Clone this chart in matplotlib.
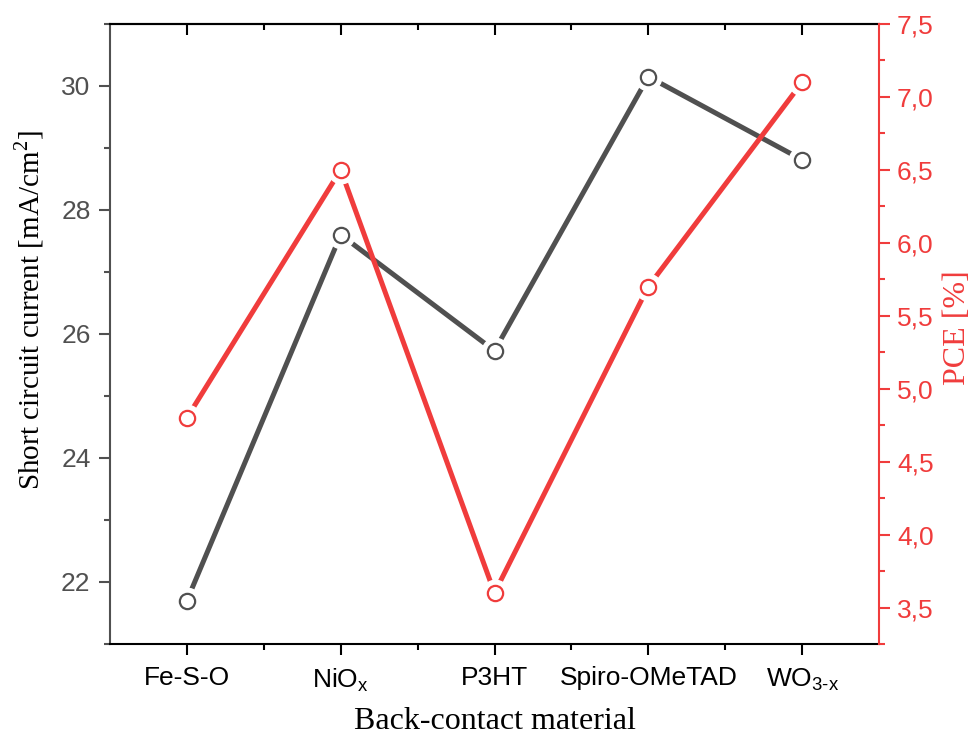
import matplotlib
matplotlib.use('Agg')
import matplotlib.pyplot as plt
from matplotlib.ticker import MultipleLocator, FuncFormatter, FixedLocator

plt.rcParams['font.family'] = ['Liberation Sans', 'DejaVu Sans']
plt.rcParams['mathtext.fontset'] = 'custom'
plt.rcParams['mathtext.rm'] = 'Liberation Sans'

materials = ['Fe-S-O', 'NiO$_\\mathregular{x}$', 'P3HT', 'Spiro-OMeTAD',
             'WO$_{\\mathregular{3}\\text{-}\\mathregular{x}}$']
jsc = [21.7, 27.6, 25.73, 30.15, 28.81]
pce = [4.8, 6.5, 3.6, 5.7, 7.1]

dark = '#505050'
red = '#f03c3c'
x = list(range(1, len(materials) + 1))

fig = plt.figure(figsize=(9.77, 7.38), dpi=100)
ax = fig.add_axes([0.1126, 0.1274, 0.7871, 0.8401])
ax2 = ax.twinx()

def draw(a, vals, color):
    a.plot(x, vals, color=color, lw=3.6, solid_capstyle='butt', zorder=2)
    a.plot(x, vals, 'o', ms=19, mfc='white', mec='white', zorder=3)
    a.plot(x, vals, 'o', ms=11, mfc='white', mec=color, mew=1.6, zorder=4)

draw(ax, jsc, dark)
draw(ax2, pce, red)

ax.set_xlim(0.5, 5.5)
ax.set_ylim(21.0, 31.0)
ax2.set_ylim(3.25, 7.5)

ax.set_xticks(x)
ax.set_xticklabels(materials)
ax.xaxis.set_minor_locator(FixedLocator([1.5, 2.5, 3.5, 4.5]))
ax.yaxis.set_major_locator(MultipleLocator(2))
ax.yaxis.set_minor_locator(MultipleLocator(1))
ax2.yaxis.set_major_locator(MultipleLocator(0.5))
ax2.yaxis.set_minor_locator(MultipleLocator(0.25))
ax2.yaxis.set_major_formatter(FuncFormatter(lambda v, p: f'{v:.1f}'.replace('.', ',')))

ax.tick_params(axis='x', which='major', length=8, width=1.5, colors='black', labelsize=19, pad=8)
ax.tick_params(axis='x', which='minor', length=4, width=1.5, colors='black')
ax.tick_params(axis='y', which='major', length=8, width=1.5, colors=dark, labelsize=19, pad=6)
ax.tick_params(axis='y', which='minor', length=4, width=1.5, colors=dark)
ax2.tick_params(axis='y', which='major', length=8, width=1.5, colors=red, labelsize=19, pad=5)
ax2.tick_params(axis='y', which='minor', length=4, width=1.5, colors=red)

top = ax.secondary_xaxis('top')
top.set_xticks(x)
top.set_xticklabels([])
top.xaxis.set_minor_locator(FixedLocator([1.5, 2.5, 3.5, 4.5]))
top.tick_params(which='major', direction='in', length=8, width=1.5)
top.tick_params(which='minor', direction='in', length=4, width=1.5)
top.spines['top'].set_linewidth(1.5)

for s in ['top', 'bottom']:
    ax.spines[s].set_linewidth(1.5)
    ax.spines[s].set_color('black')
ax.spines['left'].set_linewidth(1.5)
ax.spines['left'].set_color(dark)
ax.spines['right'].set_visible(False)
for s in ['top', 'bottom', 'left']:
    ax2.spines[s].set_visible(False)
ax2.spines['right'].set_linewidth(1.5)
ax2.spines['right'].set_color(red)

ax.set_xlabel('Back-contact material', family='Liberation Serif', fontsize=23)
ax.xaxis.set_label_coords(0.5, -0.102)
ax.set_ylabel('Short circuit current [mA/cm$^\\mathregular{2}$]', family='Liberation Serif',
              fontsize=21)
ax.yaxis.set_label_coords(-0.083, 0.539)
ax2.set_ylabel('PCE [%]', family='Liberation Serif', fontsize=23, color=red)
ax2.yaxis.set_label_coords(1.083, 0.51)

fig.savefig('out.png', dpi=100)
